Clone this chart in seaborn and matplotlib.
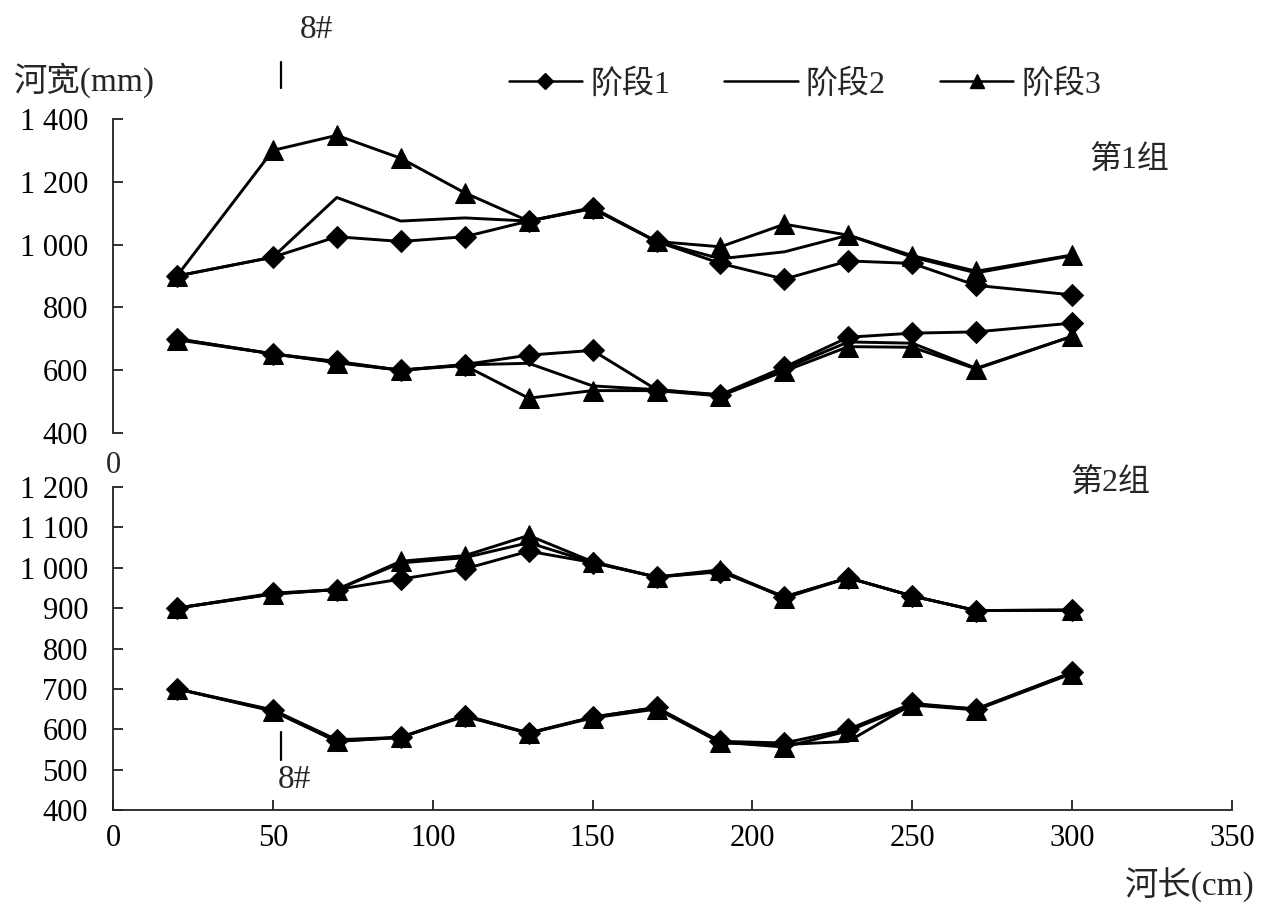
import matplotlib
matplotlib.use("Agg")
import matplotlib.pyplot as plt
from matplotlib.lines import Line2D
from matplotlib.ticker import FixedLocator, FuncFormatter
import pandas as pd
import seaborn as sns

# river length stations (cm)
x_pos = [20, 50, 70, 90, 110, 130, 150, 170, 190, 210, 230, 250, 270, 300]
stages = ["阶段1", "阶段2", "阶段3"]

# group 1, upper bank line (mm)
g1_upper_s1 = [900, 960, 1025, 1010, 1025, 1075, 1115, 1010, 940, 890, 948, 940, 870, 840]
g1_upper_s2 = [900, 960, 1150, 1075, 1085, 1075, 1115, 1010, 955, 977, 1030, 960, 910, 965]
g1_upper_s3 = [900, 1300, 1348, 1275, 1165, 1075, 1118, 1010, 993, 1065, 1030, 965, 915, 967]
# group 1, lower bank line
g1_lower_s1 = [700, 652, 628, 600, 618, 648, 663, 538, 522, 610, 705, 718, 722, 750]
g1_lower_s2 = [700, 652, 625, 600, 617, 622, 550, 538, 520, 605, 690, 686, 606, 708]
g1_lower_s3 = [697, 652, 624, 600, 615, 511, 535, 535, 518, 597, 675, 673, 604, 708]

# group 2, upper bank line
g2_upper_s1 = [900, 937, 946, 972, 997, 1041, 1013, 977, 990, 928, 975, 930, 894, 895]
g2_upper_s2 = [900, 935, 946, 1012, 1025, 1062, 1013, 977, 992, 928, 975, 930, 894, 895]
g2_upper_s3 = [900, 935, 946, 1016, 1030, 1080, 1015, 977, 995, 925, 975, 930, 894, 895]
# group 2, lower bank line
g2_lower_s1 = [700, 648, 574, 580, 634, 591, 630, 654, 570, 566, 600, 664, 650, 741]
g2_lower_s2 = [700, 646, 570, 580, 634, 590, 630, 654, 566, 562, 570, 662, 650, 740]
g2_lower_s3 = [700, 645, 570, 580, 632, 590, 628, 650, 568, 556, 596, 660, 648, 738]

section_8 = 52.5  # position of cross-section 8#

rows = []
series = {
    ("第1组", "upper"): [g1_upper_s1, g1_upper_s2, g1_upper_s3],
    ("第1组", "lower"): [g1_lower_s1, g1_lower_s2, g1_lower_s3],
    ("第2组", "upper"): [g2_upper_s1, g2_upper_s2, g2_upper_s3],
    ("第2组", "lower"): [g2_lower_s1, g2_lower_s2, g2_lower_s3],
}
for (group, bank), vals in series.items():
    for stage, ys in zip(stages, vals):
        for x, y in zip(x_pos, ys):
            rows.append({"group": group, "bank": bank, "stage": stage,
                         "length": x, "width": y})
df = pd.DataFrame(rows)

sns.set_theme(style="white")
plt.rcParams["font.family"] = ["Liberation Serif", "Noto Sans CJK SC"]
plt.rcParams["axes.unicode_minus"] = False
FS = 22       # tick labels
FS_CJK = 23   # chinese labels / legend
FS_AX = 24    # axis titles

fig = plt.figure(figsize=(12.61, 9.08), dpi=100)
ax_top = fig.add_axes([113 / 1261, 1 - 433 / 908, (1232 - 113) / 1261, 314 / 908])
ax_bot = fig.add_axes([113 / 1261, 1 - 810 / 908, (1232 - 113) / 1261, 323 / 908])

markers = {"阶段1": "D", "阶段2": "", "阶段3": "^"}
msize = {"阶段1": 11, "阶段2": 0, "阶段3": 14}

for ax, group in [(ax_top, "第1组"), (ax_bot, "第2组")]:
    sub = df[df.group == group]
    for stage in stages:
        d = sub[sub.stage == stage]
        sns.lineplot(data=d, x="length", y="width", units="bank", estimator=None,
                     color="black", linewidth=2.1, marker=markers[stage] or None,
                     markersize=msize[stage], markeredgecolor="black",
                     ax=ax, legend=False, sort=False)
    ax.set_xlim(0, 350)
    ax.set_xlabel("")
    ax.set_ylabel("")
    for s in ["top", "right"]:
        ax.spines[s].set_visible(False)
    ax.spines["left"].set_color("#222222")
    ax.spines["left"].set_linewidth(1.3)
    ax.tick_params(axis="y", left=True, direction="in", length=7, width=1.3,
                   color="#222222", pad=18, labelsize=FS, labelcolor="black")

fmt = FuncFormatter(lambda v, p: f"{v:,.0f}".replace(",", " "))

ax_top.set_ylim(400, 1400)
ax_top.yaxis.set_major_locator(FixedLocator(range(400, 1401, 200)))
ax_top.yaxis.set_major_formatter(fmt)
ax_top.spines["bottom"].set_visible(False)
ax_top.set_xticks([])

ax_bot.set_ylim(400, 1200)
ax_bot.yaxis.set_major_locator(FixedLocator(range(400, 1201, 100)))
ax_bot.yaxis.set_major_formatter(fmt)
ax_bot.set_xticks(range(0, 351, 50))
ax_bot.spines["bottom"].set_color("#222222")
ax_bot.spines["bottom"].set_linewidth(1.3)
ax_bot.tick_params(axis="x", bottom=True, direction="in", length=7, width=1.3,
                   color="#222222", pad=10, labelsize=FS, labelcolor="black")

# group labels
ax_top.text(318, 1270, "第1组", fontsize=FS_CJK, ha="center", va="center")
ax_bot.text(312, 1210, "第2组", fontsize=FS_CJK, ha="center", va="center")

# section 8# marks
ax_top.plot([section_8, section_8], [1500, 1580], color="black", lw=1.6, clip_on=False)
ax_top.text(section_8 + 6, 1683, "8#", fontsize=FS_AX, ha="left", va="center")
ax_bot.plot([section_8, section_8], [524, 593], color="black", lw=1.6, clip_on=False)
ax_bot.text(section_8 - 1, 474, "8#", fontsize=FS_AX, ha="left", va="center")

# axis titles
fig.text(14 / 1261, 1 - 80 / 908, "河宽(mm)", fontsize=FS_AX, ha="left", va="center")
fig.text(113 / 1261, 1 - 465 / 908, "0", fontsize=FS, ha="center", va="center")
fig.text(1255 / 1261, 1 - 885 / 908, "河长(cm)", fontsize=FS_AX, ha="right", va="center")

handles = [
    Line2D([], [], color="black", lw=1.8, marker="D", markersize=8),
    Line2D([], [], color="black", lw=1.8),
    Line2D([], [], color="black", lw=1.8, marker="^", markersize=10),
]
fig.legend(handles, stages, loc="center", bbox_to_anchor=(805 / 1261, 1 - 84 / 908),
           ncol=3, frameon=False, fontsize=FS_CJK, handlelength=2.3, handletextpad=0.25,
           columnspacing=1.7)

fig.savefig("out.png", dpi=100, facecolor="white")
